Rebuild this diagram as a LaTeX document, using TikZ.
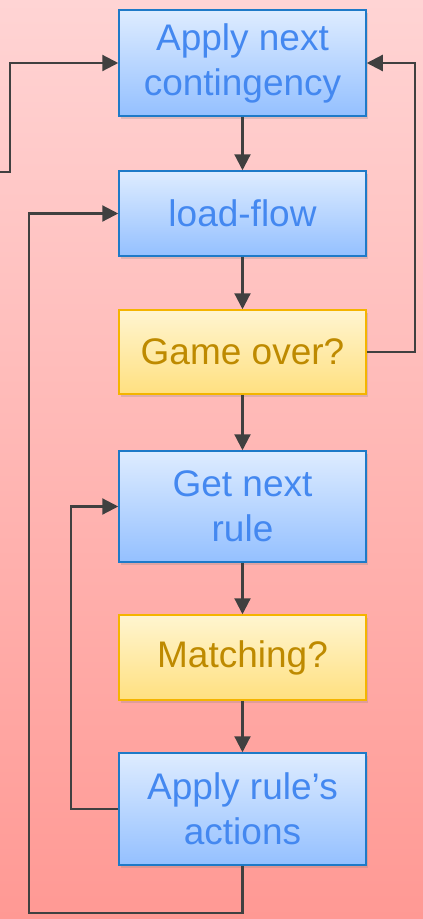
\documentclass[tikz,border=0pt]{standalone}
\usepackage{fontspec}
\setmainfont{Liberation Sans}
\usetikzlibrary{arrows.meta,shadows}
\definecolor{bgtop}{RGB}{255,212,212}
\definecolor{bgbot}{RGB}{255,153,148}
\definecolor{bluetop}{RGB}{222,236,255}
\definecolor{bluebot}{RGB}{148,192,255}
\definecolor{blueline}{RGB}{30,122,200}
\definecolor{bluetext}{RGB}{68,136,240}
\definecolor{yeltop}{RGB}{255,245,208}
\definecolor{yelbot}{RGB}{255,224,128}
\definecolor{yelline}{RGB}{244,180,0}
\definecolor{yeltext}{RGB}{190,138,0}
\definecolor{conn}{RGB}{64,64,64}
\tikzset{
  boxbase/.style={rectangle, minimum width=247pt, inner sep=0pt, line width=1.5pt, align=center,
    font=\fontsize{37}{45}\selectfont,
    drop shadow={opacity=0.25, shadow xshift=2pt, shadow yshift=-3pt}},
  bluebox/.style={boxbase, draw=blueline, top color=bluetop, bottom color=bluebot, text=bluetext},
  yelbox/.style={boxbase, draw=yelline, top color=yeltop, bottom color=yelbot, text=yeltext},
  conn/.style={draw=conn, line width=2.2pt, -{Triangle[width=16pt,length=16pt]}},
  plain/.style={draw=conn, line width=2.2pt}
}
\begin{document}
\begin{tikzpicture}[x=1pt,y=-1pt]
\shade[top color=bgtop, bottom color=bgbot] (0,0) rectangle (423,919);
\useasboundingbox (0,0) rectangle (423,919);
\node[bluebox, minimum height=106pt] (b1) at (242.5,63) {Apply next\\contingency};
\node[bluebox, minimum height=85pt] (b2) at (242.5,213.5) {load-flow};
\node[yelbox, minimum height=84pt] (b3) at (242.5,352) {Game over?};
\node[bluebox, minimum height=111pt] (b4) at (242.5,506.5) {Get next\\rule};
\node[yelbox, minimum height=85pt] (b5) at (242.5,657.5) {Matching?};
\node[bluebox, minimum height=112pt] (b6) at (242.5,809) {Apply rule’s\\actions};
\coordinate (in) at (0,172);
\draw[conn] (b1) -- (b2);
\draw[conn] (b2) -- (b3);
\draw[conn] (b3) -- (b4);
\draw[conn] (b4) -- (b5);
\draw[conn] (b5) -- (b6);
\draw[conn] (in) -- (10,172) |- (b1.west);
\draw[conn] (b3.east) -- (415,352) |- (b1.east);
\draw[conn] (b6.west) -- (71,809) |- (b4.west);
\draw[conn] (b6.south) -- (242.5,913) -| (29,213.5) -- (b2.west);
\end{tikzpicture}
\end{document}
